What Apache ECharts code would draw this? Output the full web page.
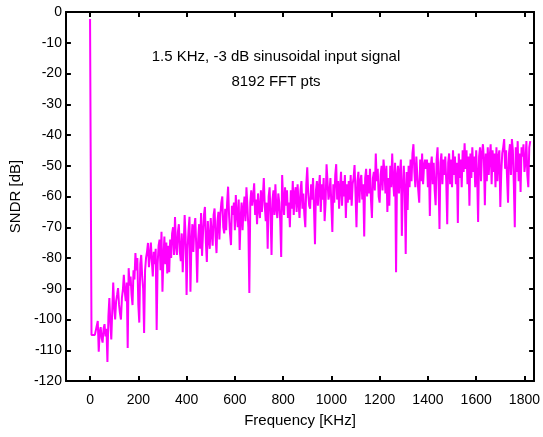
<!DOCTYPE html>
<html>
<head>
<meta charset="utf-8">
<script src="https://cdn.jsdelivr.net/npm/echarts@6/dist/echarts.min.js"></script>
<style>
html,body{margin:0;padding:0;background:#fff;}
#main{width:543px;height:437px;}
</style>
</head>
<body>
<div id="main"></div>
<script>
// tone + flat floor right after DC
var toneKHz = [0, 6, 12, 20, 27];
var toneDb = [-2.3, -105, -105, -105, -105.5];

// noise spectrum, one value every 4 KHz from 32 KHz (20 values = 80 KHz per row)
var noiseStartKHz = 32;
var noiseStepKHz = 4;
var noiseDb = [
	-100.5,-110.5,-104,-102.5,-106,-107.5,-103,-101.5,-105.5,-103,-113.8,-99,-93,-101,-106.5,-97,-88,-96,-100,-94,
	-92,-89.8,-95,-98,-100,-93,-90.4,-85.5,-91,-94,-88,-109.3,-83.3,-89,-86,-92,-95.3,-84,-87,-78.4,
	-84,-80,-95.3,-101,-82,-79,-86,-90,-104.4,-84,-80,-78,-75.1,-83,-79,-75,-81,-86,-78,-82,
	-77,-103.4,-82,-76,-74,-84,-71.5,-91,-80,-73,-82,-75,-85,-76,-84.6,-74,-80,-72,-70,-79,
	-66.7,-76,-79,-71.5,-69,-78,-81,-72,-84.6,-76,-66,-73,-92,-77,-71,-66.6,-91,-75,-69,-78,
	-70,-67,-76,-88,-74,-69,-77,-65.4,-79.3,-72,-66,-63.4,-75,-81.3,-68,-74,-77,-67,-72,-76,
	-66,-63.9,-73,-78.4,-68,-65,-74,-66,-62,-60,-70,-72,-64,-71,-62,-56.8,-66,-72,-75.8,-63,
	-66,-62,-71,-59.5,-66,-70,-61,-77.4,-67,-62,-71,-64,-60,-68,-57,-63,-70,-91.4,-62,-58,
	-63,-60,-55.7,-66,-61,-69,-59,-64,-67,-58,-65,-60,-54,-63,-68,-62,-77,-60,-57,-66,
	-79,-61,-58,-66,-56,-64,-67,-59,-62,-68,-79.7,-53,-61,-66,-57,-63,-58,-67,-62,-70,
	-58,-64,-55,-66,-59,-57,-65,-56,-62,-67,-58,-55,-64,-59,-66,-70,-56,-50.5,-59,-63,
	-64,-56,-61,-54,-64,-75.5,-58,-55,-63,-57,-53,-65,-56,-61,-54,-68,-62,-49.5,-55,-61,
	-59,-54,-63,-71.5,-56,-62,-53,-49.5,-61,-55,-64,-57,-52,-63,-55,-60,-53,-67,-56,-62,
	-55,-61,-53,-63,-56,-54,-49.8,-59,-70,-55,-52,-62,-55,-53,-61,-56,-73,-54,-51,-60,
	-53,-59,-51,-61,-67,-54,-52,-58,-46,-55,-51,-60,-62,-53,-50,-58,-48,-52,-59,-50,
	-65,-54,-63,-50,-57,-46,-55,-60,-49,-84.6,-53,-50,-59,-52,-48,-72.8,-57,-50,-58,-78.7,
	-52,-64.4,-50,-57,-48,-55,-46,-43,-52,-57,-47,-53,-58,-62,-48,-55,-46,-56,-50,-48,
	-51,-48,-57,-49,-66.3,-50,-47,-56,-49,-58,-62.8,-48,-44,-55,-70.6,-49,-46,-56,-48,-53,
	-47,-55,-69,-49,-46,-56,-48,-57,-45,-53,-47,-56,-49,-68.6,-46,-54,-48,-57,-45,-52,
	-42.7,-51,-45,-56,-47,-63,-46,-54,-44,-52,-47,-57,-45,-53,-68.3,-47,-44,-55,-46,-43,
	-48,-62.8,-46,-55,-44,-53,-47,-43,-56,-45,-52,-46,-57,-44,-55,-47,-45,-63.4,-52,-46,
	-44,-41.3,-51,-45,-54,-62,-46,-43,-53,-41.3,-45,-56,-70,-44,-52,-42,-55,-46,-58.5,-44,
	-47,-43,-52,-49,-42,-53,-57,-44,-42
];

var xTicks = [0, 200, 400, 600, 800, 1000, 1200, 1400, 1600, 1800];
var noteLines = ['1.5 KHz, -3 dB sinusoidal input signal', '8192 FFT pts'];

var FONT = '"Liberation Sans", Arial, sans-serif';

function buildSeries(){
	var pts = [];
	var i;
	for(i = 0; i < toneKHz.length; i++){
		pts.push([toneKHz[i], toneDb[i]]);
	}
	for(i = 0; i < noiseDb.length; i++){
		pts.push([noiseStartKHz + i * noiseStepKHz, noiseDb[i]]);
	}
	return pts;
}

function plain(v){
	return String(v);
}

var axisLine = {show: true, onZero: false, lineStyle: {color: '#000', width: 2}};
var inTick = {show: true, inside: true, length: 5, lineStyle: {color: '#000', width: 2}};

var chart = echarts.init(document.getElementById('main'));
var option = {
	animation: false,
	backgroundColor: '#fff',
	grid: {left: 65, right: 7, top: 12, bottom: 56, containLabel: false},
	xAxis: [
		{
			type: 'value', position: 'bottom', min: -100, max: 1840,
			name: 'Frequency [KHz]', nameLocation: 'middle', nameGap: 32,
			nameTextStyle: {color: '#000', fontSize: 15, fontFamily: FONT},
			axisLine: axisLine,
			axisTick: {show: true, inside: true, length: 5, lineStyle: {color: '#000', width: 2}, customValues: xTicks},
			axisLabel: {color: '#000', fontSize: 14, fontFamily: FONT, margin: 12, customValues: xTicks, formatter: plain},
			splitLine: {show: false}
		},
		{
			type: 'value', position: 'top', min: -100, max: 1840,
			axisLine: axisLine,
			axisTick: {show: true, inside: true, length: 5, lineStyle: {color: '#000', width: 2}, customValues: xTicks},
			axisLabel: {show: false, customValues: xTicks},
			splitLine: {show: false}
		}
	],
	yAxis: [
		{
			type: 'value', position: 'left', min: -120, max: 0, interval: 10,
			name: 'SNDR [dB]', nameLocation: 'middle', nameGap: 40,
			nameTextStyle: {color: '#000', fontSize: 15, fontFamily: FONT},
			axisLine: axisLine,
			axisTick: inTick,
			axisLabel: {color: '#000', fontSize: 14, fontFamily: FONT, margin: 4},
			splitLine: {show: false}
		},
		{
			type: 'value', position: 'right', min: -120, max: 0, interval: 10,
			axisLine: axisLine,
			axisTick: inTick,
			axisLabel: {show: false},
			splitLine: {show: false}
		}
	],
	graphic: [
		{type: 'text', x: 276, y: 57, style: {text: noteLines[0], fill: '#000', font: '15px ' + FONT, textAlign: 'center', textVerticalAlign: 'middle'}},
		{type: 'text', x: 276, y: 82, style: {text: noteLines[1], fill: '#000', font: '15px ' + FONT, textAlign: 'center', textVerticalAlign: 'middle'}}
	],
	series: [
		{
			type: 'line',
			data: buildSeries(),
			showSymbol: false,
			symbol: 'none',
			lineStyle: {color: '#ff00ff', width: 2},
			z: 1
		}
	]
};
chart.setOption(option);
</script>
</body>
</html>
